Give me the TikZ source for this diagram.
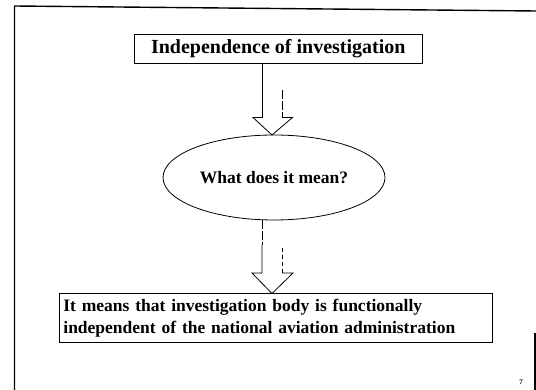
\documentclass[tikz,border=0pt]{standalone}
\usepackage{fontspec}
\setmainfont{Liberation Serif}
\usetikzlibrary{calc,shapes.geometric}
\begin{document}
\begin{tikzpicture}[x=1pt,y=-1pt,
  frame/.style={line width=1.4pt},
  box/.style={draw, line width=0.8pt, inner sep=0pt},
  blockarrow/.style={line width=0.8pt, line join=miter},
  brokenline/.style={line width=0.8pt, dash pattern=on 9pt off 2pt},
  dotline/.style={line width=0.8pt, dash pattern=on 4pt off 3pt}]
\useasboundingbox (0,0) rectangle (536,390);
\fill[white] (0,0) rectangle (536,390);

% page frame
\coordinate (fbl) at (14.5,390);
\coordinate (ftl) at (14.5,6);
\coordinate (ftr) at (536,11);
\coordinate (frb) at (535,390);
\coordinate (frt) at (535,333);
\draw[frame] (fbl) -- (ftl) -- (ftr);
\draw[frame] (frt) -- (frb);
\node[font=\fontsize{7}{8}\selectfont\bfseries] (pg) at (521,382) {7};

% boxes
\node[box, minimum width=288.7pt, minimum height=29.3pt,
      font=\fontsize{20}{24}\selectfont\bfseries] (title) at (278.3,48.7)
      {Independence of investigation};
\node[draw, ellipse, line width=0.8pt, minimum width=222pt, minimum height=85pt,
      font=\fontsize{17.5}{21}\selectfont\bfseries] (q) at (274,177.5)
      {What does it mean?};
\node[box, anchor=north west, minimum width=432.7pt, minimum height=48.5pt,
      inner xsep=4pt, text width=424.7pt, align=left,
      font=\fontsize{17.5}{22}\selectfont\bfseries] (ans) at (59,293.5)
      {It means that investigation body is functionally\\
       independent of the national aviation administration};

% first block arrow
\coordinate (a1l) at (262.5,117.5);
\coordinate (a1r) at (282,117.5);
\coordinate (a1bl) at (253,117.5);
\coordinate (a1br) at (292.5,117.5);
\coordinate (a1tip) at (272,135);
\coordinate (a1rt) at (282,90);
\draw[blockarrow] (a1l |- title.south) -- (a1l) -- (a1bl) -- (a1tip) -- (a1br) -- (a1r);
\draw[brokenline] (a1rt) -- (a1r);

% second block arrow
\coordinate (a2l) at (262,273);
\coordinate (a2r) at (282,273);
\coordinate (a2bl) at (252,273);
\coordinate (a2br) at (293,273);
\coordinate (a2tip) at (272,293.5);
\coordinate (a2lm) at (262,245);
\coordinate (a2rt) at (282,248);
\draw[brokenline] (a2l |- q.south) -- (a2lm);
\draw[blockarrow] (a2lm) -- (a2l) -- (a2bl) -- (a2tip) -- (a2br) -- (a2r);
\draw[dotline] (a2rt) -- (a2r);
\end{tikzpicture}
\end{document}
